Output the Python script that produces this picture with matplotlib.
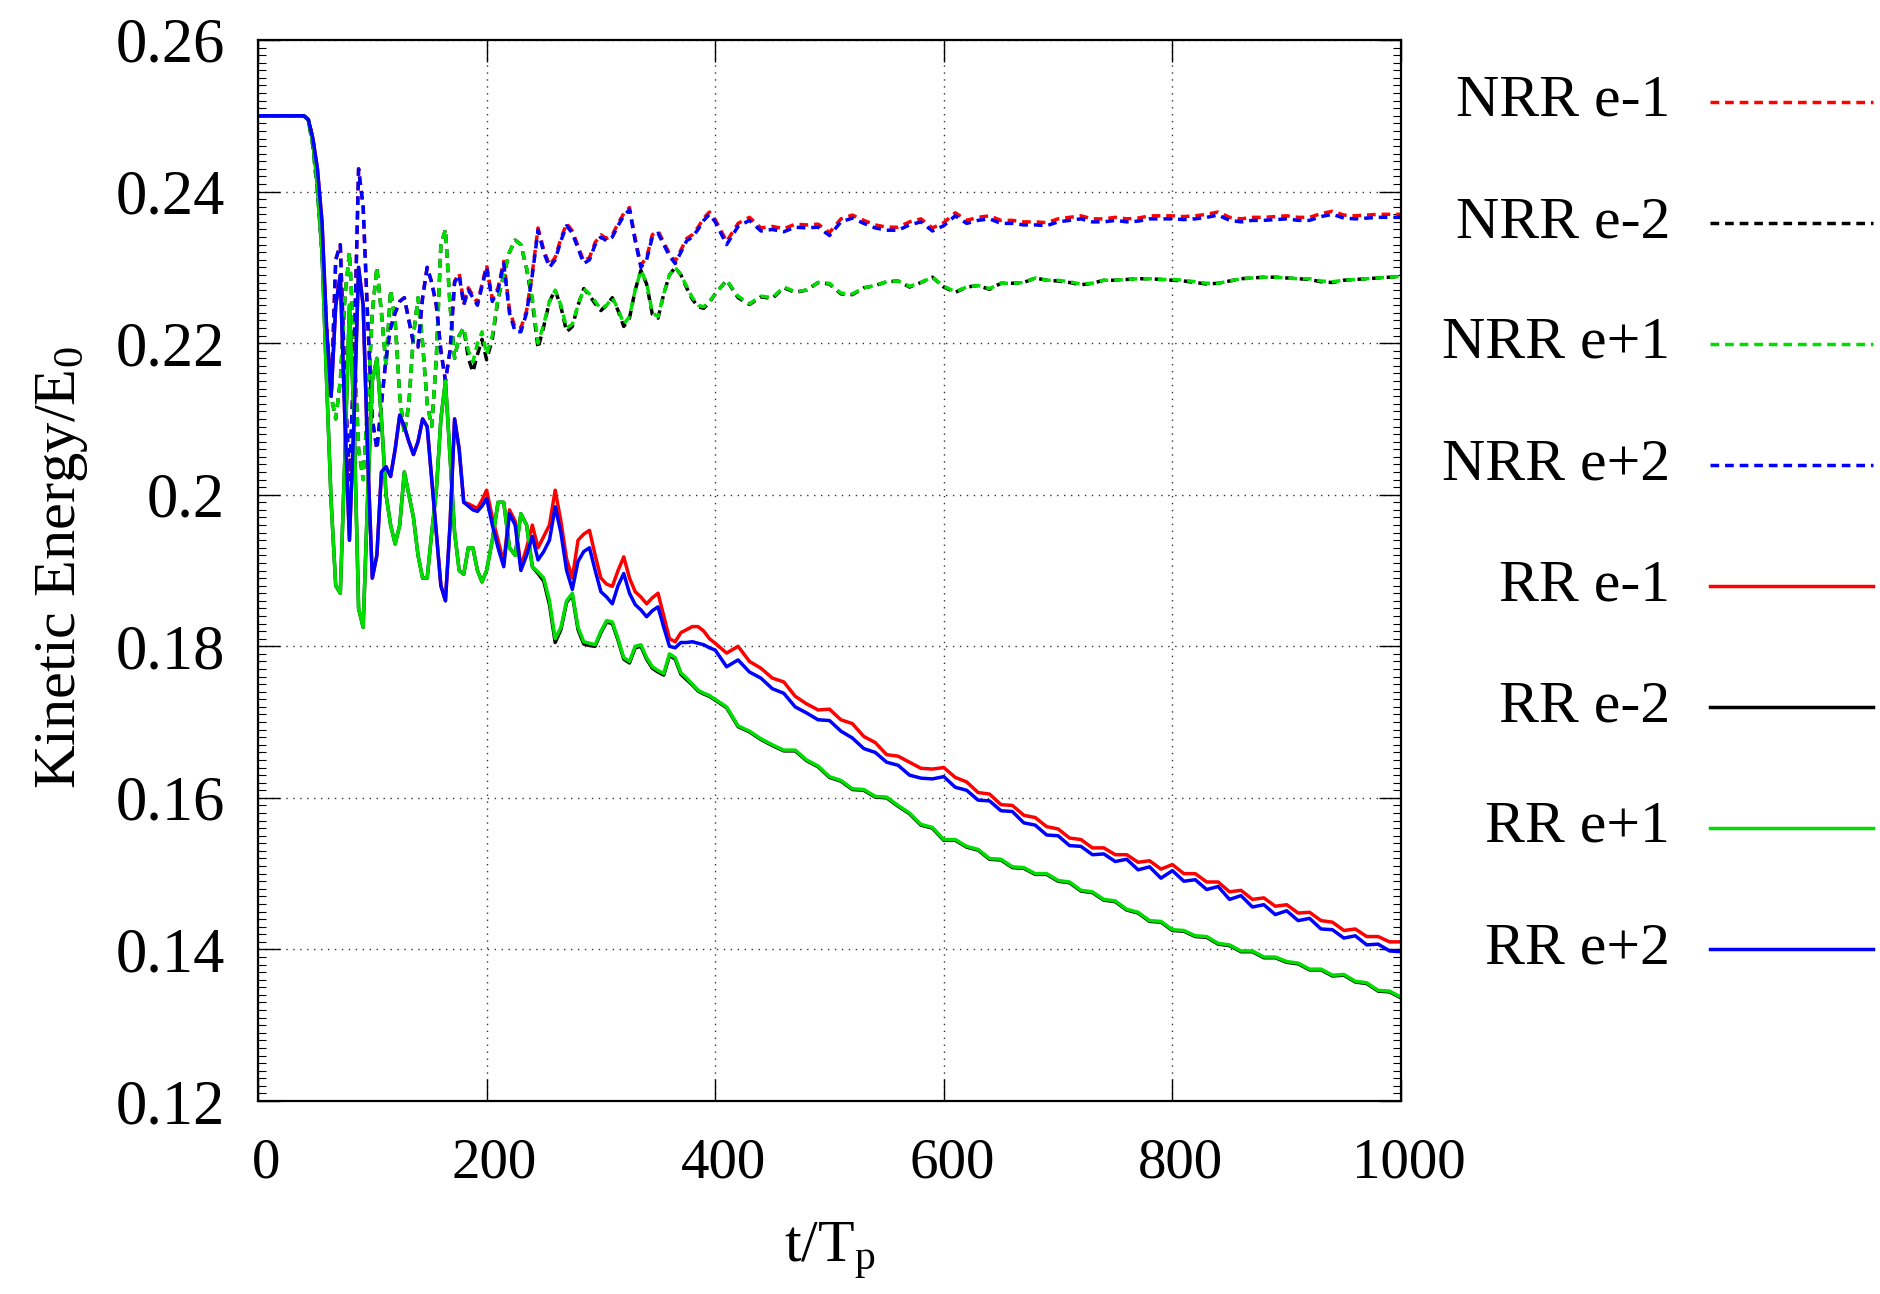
import numpy as np
import matplotlib
matplotlib.use("Agg")
import matplotlib.pyplot as plt
import matplotlib.transforms as mtransforms
from matplotlib.lines import Line2D
from matplotlib.ticker import MultipleLocator, FuncFormatter

plt.rcParams['font.family'] = ['Liberation Serif', 'DejaVu Serif']
plt.rcParams['mathtext.fontset'] = 'custom'
plt.rcParams['mathtext.rm'] = 'Liberation Serif'
plt.rcParams['mathtext.it'] = 'Liberation Serif:italic'

# ---------------- data ----------------
t_plateau = [0, 10, 20, 30, 40]
t_early = list(range(44, 201, 4))      # 40 samples
t_mid = list(range(205, 401, 5))       # 40 samples
t_late = list(range(410, 1001, 10))    # 60 samples
t = np.array(t_plateau + t_early + t_mid + t_late, dtype=float)

nrr_ep2 = [0.250, 0.250, 0.250, 0.250, 0.250,
    0.2495, 0.2470, 0.2410, 0.2330, 0.2220, 0.2130, 0.2310, 0.2330, 0.2150, 0.2020,
    0.2180, 0.2430, 0.2380, 0.2230, 0.2100, 0.2060, 0.2120, 0.2180, 0.2220, 0.2240,
    0.2255, 0.2260, 0.2230, 0.2200, 0.2195, 0.2260, 0.2300, 0.2280, 0.2250, 0.2190,
    0.2150, 0.2190, 0.2280, 0.2290, 0.2250, 0.2270, 0.2260, 0.2250, 0.2275, 0.2300,
    0.2255, 0.2270, 0.2305, 0.2240, 0.2215, 0.2215, 0.2240, 0.2290, 0.2349, 0.2320,
    0.2300, 0.2310, 0.2335, 0.2355, 0.2345, 0.2325, 0.2305, 0.2310, 0.2330, 0.2340,
    0.2335, 0.2340, 0.2355, 0.2368, 0.2376, 0.2335, 0.2300, 0.2310, 0.2340, 0.2345,
    0.2330, 0.2315, 0.2305, 0.2320, 0.2335, 0.2340, 0.2350, 0.2362, 0.2370, 0.2360,
    0.2330, 0.2354, 0.2362, 0.2348, 0.2350, 0.2347, 0.2353, 0.2352, 0.2353, 0.2342,
    0.2360, 0.2365, 0.2358, 0.2352, 0.2349, 0.2349, 0.2356, 0.2360, 0.2348, 0.2355,
    0.2368, 0.2358, 0.2362, 0.2364, 0.2358, 0.2358, 0.2356, 0.2356, 0.2355, 0.2360,
    0.2362, 0.2364, 0.2360, 0.2360, 0.2362, 0.2360, 0.2361, 0.2364, 0.2364, 0.2364,
    0.2363, 0.2364, 0.2366, 0.2369, 0.2362, 0.2360, 0.2362, 0.2362, 0.2363, 0.2364,
    0.2362, 0.2362, 0.2367, 0.2370, 0.2365, 0.2364, 0.2365, 0.2366, 0.2366, 0.2366]

nrr_em1 = [0.250, 0.250, 0.250, 0.250, 0.250,
    0.2495, 0.2470, 0.2410, 0.2330, 0.2220, 0.2130, 0.2310, 0.2330, 0.2150, 0.2020,
    0.2180, 0.2430, 0.2380, 0.2230, 0.2100, 0.2060, 0.2120, 0.2180, 0.2220, 0.2240,
    0.2255, 0.2260, 0.2230, 0.2200, 0.2195, 0.2260, 0.2300, 0.2280, 0.2250, 0.2190,
    0.2150, 0.2190, 0.2282, 0.2292, 0.2253, 0.2273, 0.2263, 0.2253, 0.2278, 0.2303,
    0.2258, 0.2273, 0.2308, 0.2244, 0.2220, 0.2220, 0.2243, 0.2293, 0.2352, 0.2323,
    0.2303, 0.2313, 0.2338, 0.2358, 0.2348, 0.2328, 0.2308, 0.2313, 0.2333, 0.2343,
    0.2338, 0.2343, 0.2358, 0.2371, 0.2379, 0.2338, 0.2303, 0.2313, 0.2343, 0.2348,
    0.2333, 0.2318, 0.2308, 0.2323, 0.2338, 0.2343, 0.2353, 0.2365, 0.2373, 0.2363,
    0.2334, 0.2358, 0.2366, 0.2352, 0.2354, 0.2351, 0.2357, 0.2356, 0.2357, 0.2346,
    0.2364, 0.2369, 0.2362, 0.2356, 0.2353, 0.2353, 0.2360, 0.2364, 0.2352, 0.2359,
    0.2372, 0.2362, 0.2366, 0.2368, 0.2362, 0.2362, 0.2360, 0.2360, 0.2359, 0.2364,
    0.2366, 0.2368, 0.2364, 0.2364, 0.2366, 0.2364, 0.2365, 0.2368, 0.2368, 0.2368,
    0.2367, 0.2368, 0.2370, 0.2373, 0.2366, 0.2364, 0.2366, 0.2366, 0.2367, 0.2368,
    0.2366, 0.2366, 0.2371, 0.2374, 0.2369, 0.2368, 0.2369, 0.2370, 0.2370, 0.2370]

nrr_ep1 = [0.250, 0.250, 0.250, 0.250, 0.250,
    0.2495, 0.2460, 0.2400, 0.2320, 0.2220, 0.2130, 0.2100, 0.2150, 0.2260, 0.2320,
    0.2200, 0.2060, 0.2020, 0.2120, 0.2240, 0.2300, 0.2240, 0.2170, 0.2270, 0.2230,
    0.2130, 0.2080, 0.2120, 0.2210, 0.2260, 0.2200, 0.2120, 0.2090, 0.2180, 0.2330,
    0.2350, 0.2250, 0.2180, 0.2210, 0.2220, 0.2190, 0.2175, 0.2200, 0.2215, 0.2185,
    0.2210, 0.2260, 0.2290, 0.2320, 0.2336, 0.2330, 0.2300, 0.2260, 0.2200, 0.2225,
    0.2255, 0.2270, 0.2250, 0.2220, 0.2225, 0.2250, 0.2272, 0.2265, 0.2255, 0.2245,
    0.2250, 0.2260, 0.2245, 0.2225, 0.2235, 0.2270, 0.2296, 0.2280, 0.2240, 0.2235,
    0.2265, 0.2290, 0.2300, 0.2290, 0.2275, 0.2260, 0.2250, 0.2248, 0.2255, 0.2265,
    0.2283, 0.2262, 0.2252, 0.2262, 0.2260, 0.2274, 0.2268, 0.2270, 0.2280, 0.2279,
    0.2266, 0.2265, 0.2273, 0.2276, 0.2281, 0.2282, 0.2275, 0.2280, 0.2287, 0.2275,
    0.2268, 0.2274, 0.2276, 0.2272, 0.2279, 0.2279, 0.2280, 0.2286, 0.2283, 0.2283,
    0.2281, 0.2278, 0.2279, 0.2283, 0.2283, 0.2284, 0.2285, 0.2285, 0.2284, 0.2284,
    0.2283, 0.2281, 0.2279, 0.2279, 0.2282, 0.2285, 0.2286, 0.2287, 0.2287, 0.2286,
    0.2285, 0.2285, 0.2282, 0.2281, 0.2283, 0.2284, 0.2285, 0.2286, 0.2287, 0.2288]

nrr_em2 = [0.250, 0.250, 0.250, 0.250, 0.250,
    0.2495, 0.2460, 0.2400, 0.2320, 0.2220, 0.2130, 0.2100, 0.2150, 0.2260, 0.2320,
    0.2200, 0.2060, 0.2020, 0.2120, 0.2240, 0.2300, 0.2240, 0.2170, 0.2270, 0.2230,
    0.2130, 0.2080, 0.2120, 0.2210, 0.2260, 0.2200, 0.2120, 0.2090, 0.2180, 0.2330,
    0.2350, 0.2250, 0.2180, 0.2210, 0.2220, 0.2180, 0.2162, 0.2185, 0.2205, 0.2178,
    0.2205, 0.2258, 0.2290, 0.2320, 0.2336, 0.2330, 0.2298, 0.2255, 0.2193, 0.2222,
    0.2255, 0.2270, 0.2248, 0.2215, 0.2222, 0.2250, 0.2272, 0.2263, 0.2252, 0.2243,
    0.2250, 0.2260, 0.2243, 0.2222, 0.2233, 0.2270, 0.2296, 0.2278, 0.2238, 0.2233,
    0.2265, 0.2290, 0.2300, 0.2290, 0.2273, 0.2258, 0.2248, 0.2246, 0.2254, 0.2265,
    0.2283, 0.2260, 0.2251, 0.2261, 0.2259, 0.2273, 0.2267, 0.2270, 0.2280, 0.2278,
    0.2265, 0.2264, 0.2273, 0.2276, 0.2281, 0.2282, 0.2274, 0.2280, 0.2287, 0.2274,
    0.2267, 0.2274, 0.2276, 0.2271, 0.2279, 0.2279, 0.2280, 0.2286, 0.2283, 0.2282,
    0.2280, 0.2277, 0.2279, 0.2283, 0.2283, 0.2284, 0.2285, 0.2285, 0.2284, 0.2283,
    0.2282, 0.2280, 0.2278, 0.2279, 0.2282, 0.2285, 0.2286, 0.2287, 0.2287, 0.2286,
    0.2285, 0.2284, 0.2281, 0.2280, 0.2283, 0.2284, 0.2285, 0.2286, 0.2287, 0.2288]

rr_ep2 = [0.250, 0.250, 0.250, 0.250, 0.250,
    0.2495, 0.2470, 0.2430, 0.2360, 0.2220, 0.2130, 0.2250, 0.2290, 0.2100, 0.1940,
    0.2100, 0.2300, 0.2250, 0.2050, 0.1890, 0.1920, 0.2030, 0.2037, 0.2024, 0.2060,
    0.2105, 0.2090, 0.2070, 0.2053, 0.2070, 0.2100, 0.2090, 0.2020, 0.1950, 0.1880,
    0.1860, 0.1960, 0.2100, 0.2060, 0.1990, 0.1985, 0.1980, 0.1978, 0.1985, 0.1995,
    0.1960, 0.1930, 0.1905, 0.1975, 0.1960, 0.1900, 0.1920, 0.1945, 0.1914, 0.1925,
    0.1940, 0.1984, 0.1950, 0.1900, 0.1875, 0.1912, 0.1925, 0.1930, 0.1900, 0.1872,
    0.1865, 0.1856, 0.1880, 0.1896, 0.1870, 0.1855, 0.1848, 0.1839, 0.1847, 0.1852,
    0.1825, 0.1800, 0.1798, 0.1805, 0.1805, 0.1806, 0.1804, 0.1802, 0.1798, 0.1795,
    0.1773, 0.1782, 0.1766, 0.1758, 0.1744, 0.1738, 0.1720, 0.1712, 0.1703, 0.1702,
    0.1688, 0.1679, 0.1665, 0.1660, 0.1647, 0.1643, 0.1630, 0.1626, 0.1625, 0.1628,
    0.1614, 0.1610, 0.1597, 0.1596, 0.1583, 0.1582, 0.1567, 0.1564, 0.1551, 0.1550,
    0.1537, 0.1536, 0.1525, 0.1526, 0.1516, 0.1519, 0.1505, 0.1509, 0.1494, 0.1504,
    0.1490, 0.1492, 0.1479, 0.1483, 0.1466, 0.1471, 0.1456, 0.1459, 0.1446, 0.1451,
    0.1438, 0.1441, 0.1427, 0.1426, 0.1415, 0.1418, 0.1406, 0.1407, 0.1398, 0.1397]

rr_em1 = [0.250, 0.250, 0.250, 0.250, 0.250,
    0.2495, 0.2470, 0.2430, 0.2360, 0.2220, 0.2130, 0.2250, 0.2290, 0.2100, 0.1940,
    0.2100, 0.2300, 0.2250, 0.2050, 0.1890, 0.1920, 0.2030, 0.2037, 0.2024, 0.2060,
    0.2105, 0.2090, 0.2070, 0.2053, 0.2070, 0.2100, 0.2090, 0.2020, 0.1950, 0.1880,
    0.1860, 0.1960, 0.2100, 0.2060, 0.1990, 0.1988, 0.1985, 0.1982, 0.1993, 0.2006,
    0.1970, 0.1940, 0.1910, 0.1980, 0.1965, 0.1905, 0.1930, 0.1960, 0.1930, 0.1945,
    0.1960, 0.2006, 0.1965, 0.1915, 0.1890, 0.1940, 0.1948, 0.1953, 0.1920, 0.1890,
    0.1882, 0.1879, 0.1900, 0.1918, 0.1890, 0.1872, 0.1865, 0.1856, 0.1864, 0.1870,
    0.1840, 0.1810, 0.1806, 0.1818, 0.1822, 0.1826, 0.1826, 0.1820, 0.1810, 0.1804,
    0.1791, 0.1800, 0.1780, 0.1771, 0.1758, 0.1753, 0.1734, 0.1724, 0.1716, 0.1717,
    0.1703, 0.1698, 0.1681, 0.1673, 0.1657, 0.1655, 0.1647, 0.1639, 0.1638, 0.1640,
    0.1627, 0.1621, 0.1607, 0.1605, 0.1591, 0.1590, 0.1577, 0.1574, 0.1562, 0.1559,
    0.1547, 0.1545, 0.1534, 0.1534, 0.1525, 0.1525, 0.1515, 0.1517, 0.1506, 0.1512,
    0.1500, 0.1500, 0.1489, 0.1489, 0.1476, 0.1478, 0.1466, 0.1468, 0.1457, 0.1459,
    0.1448, 0.1449, 0.1438, 0.1436, 0.1425, 0.1427, 0.1417, 0.1417, 0.1410, 0.1410]

rr_ep1 = [0.250, 0.250, 0.250, 0.250, 0.250,
    0.2495, 0.2465, 0.2410, 0.2320, 0.2150, 0.1990, 0.1880, 0.1870, 0.2050, 0.2250,
    0.2100, 0.1850, 0.1825, 0.2000, 0.2150, 0.2180, 0.2100, 0.2000, 0.1960, 0.1935,
    0.1960, 0.2030, 0.2000, 0.1970, 0.1920, 0.1890, 0.1890, 0.1950, 0.2005, 0.2100,
    0.2150, 0.2050, 0.1950, 0.1900, 0.1895, 0.1930, 0.1930, 0.1900, 0.1885, 0.1900,
    0.1940, 0.1990, 0.1990, 0.1930, 0.1920, 0.1975, 0.1960, 0.1905, 0.1898, 0.1890,
    0.1860, 0.1810, 0.1825, 0.1860, 0.1870, 0.1825, 0.1806, 0.1804, 0.1802, 0.1820,
    0.1834, 0.1832, 0.1810, 0.1785, 0.1780, 0.1800, 0.1802, 0.1785, 0.1773, 0.1768,
    0.1764, 0.1790, 0.1785, 0.1765, 0.1758, 0.1750, 0.1742, 0.1738, 0.1735, 0.1730,
    0.1720, 0.1695, 0.1688, 0.1678, 0.1670, 0.1663, 0.1663, 0.1650, 0.1642, 0.1628,
    0.1623, 0.1612, 0.1611, 0.1602, 0.1601, 0.1590, 0.1580, 0.1565, 0.1561, 0.1545,
    0.1545, 0.1536, 0.1532, 0.1520, 0.1519, 0.1509, 0.1508, 0.1500, 0.1500, 0.1491,
    0.1489, 0.1478, 0.1476, 0.1466, 0.1464, 0.1453, 0.1449, 0.1438, 0.1437, 0.1426,
    0.1425, 0.1418, 0.1417, 0.1408, 0.1406, 0.1398, 0.1398, 0.1390, 0.1390, 0.1384,
    0.1382, 0.1374, 0.1374, 0.1366, 0.1367, 0.1358, 0.1356, 0.1346, 0.1345, 0.1337]

rr_em2 = [0.250, 0.250, 0.250, 0.250, 0.250,
    0.2495, 0.2465, 0.2410, 0.2320, 0.2150, 0.1990, 0.1880, 0.1870, 0.2050, 0.2250,
    0.2100, 0.1850, 0.1825, 0.2000, 0.2150, 0.2180, 0.2100, 0.2000, 0.1960, 0.1935,
    0.1960, 0.2030, 0.2000, 0.1970, 0.1920, 0.1890, 0.1890, 0.1950, 0.2005, 0.2100,
    0.2150, 0.2050, 0.1950, 0.1900, 0.1895, 0.1930, 0.1930, 0.1900, 0.1885, 0.1900,
    0.1940, 0.1990, 0.1990, 0.1930, 0.1920, 0.1975, 0.1960, 0.1905, 0.1896, 0.1886,
    0.1855, 0.1805, 0.1822, 0.1858, 0.1868, 0.1822, 0.1803, 0.1801, 0.1800, 0.1818,
    0.1832, 0.1830, 0.1808, 0.1783, 0.1778, 0.1798, 0.1800, 0.1783, 0.1771, 0.1766,
    0.1762, 0.1788, 0.1783, 0.1763, 0.1756, 0.1749, 0.1741, 0.1737, 0.1734, 0.1729,
    0.1719, 0.1694, 0.1687, 0.1677, 0.1669, 0.1662, 0.1662, 0.1649, 0.1641, 0.1627,
    0.1622, 0.1611, 0.1610, 0.1601, 0.1600, 0.1589, 0.1579, 0.1564, 0.1560, 0.1544,
    0.1544, 0.1535, 0.1531, 0.1519, 0.1518, 0.1508, 0.1507, 0.1499, 0.1499, 0.1490,
    0.1488, 0.1477, 0.1475, 0.1465, 0.1463, 0.1452, 0.1448, 0.1437, 0.1436, 0.1425,
    0.1424, 0.1417, 0.1416, 0.1407, 0.1405, 0.1397, 0.1397, 0.1389, 0.1389, 0.1383,
    0.1381, 0.1373, 0.1373, 0.1365, 0.1366, 0.1357, 0.1355, 0.1345, 0.1344, 0.1336]

labels = ["NRR e-1", "NRR e-2", "NRR e+1", "NRR e+2",
          "RR e-1", "RR e-2", "RR e+1", "RR e+2"]
series = [nrr_em1, nrr_em2, nrr_ep1, nrr_ep2, rr_em1, rr_em2, rr_ep1, rr_ep2]
y_ticks = [0.12, 0.14, 0.16, 0.18, 0.2, 0.22, 0.24, 0.26]
x_ticks = [0, 200, 400, 600, 800, 1000]

for s in series:
    assert len(s) == len(t), (len(s), len(t))

# ---------------- style ----------------
RED, BLACK, GREEN, BLUE = '#ff0000', '#000000', '#00dd00', '#0000ff'
colors = [RED, BLACK, GREEN, BLUE, RED, BLACK, GREEN, BLUE]
DASH = (0, (2.5, 1.7))
styles = [DASH] * 4 + ['-'] * 4
LW = 2.5

W, H = 1881, 1294
fig = plt.figure(figsize=(W / 100, H / 100), dpi=100)
ax = fig.add_axes([258 / W, 1 - 1101 / H, (1401 - 258) / W, (1101 - 40) / H])

for s, c, ls in zip(series, colors, styles):
    ax.plot(t, s, color=c, linestyle=ls, lw=LW)

ax.set_xlim(0, 1000)
ax.set_ylim(0.12, 0.26)
ax.set_xticks(x_ticks)
ax.set_yticks(y_ticks)
ax.yaxis.set_minor_locator(MultipleLocator(0.001))
ax.yaxis.set_major_formatter(FuncFormatter(lambda v, p: f"{v:g}"))
ax.tick_params(axis='both', which='major', direction='in', length=16, width=1.0,
               top=True, right=True)
ax.tick_params(axis='y', which='minor', direction='in', length=6, width=0.8,
               left=True, right=True)
ax.tick_params(axis='x', which='major', pad=26, labelsize=41)
ax.tick_params(axis='y', which='major', pad=24, labelsize=45)
for sp in ax.spines.values():
    sp.set_linewidth(1.6)
ax.grid(True, which='major', color='black', linestyle=(0, (1, 4)), lw=1.0, alpha=0.8)

shift = mtransforms.ScaledTranslation(8 / 100, 0, fig.dpi_scale_trans)
for lab in ax.get_xticklabels():
    lab.set_transform(lab.get_transform() + shift)

fig.text(62 / W, 1 - 568 / H, "Kinetic Energy/E$_{\\mathrm{0}}$", rotation=90,
         ha='center', va='center', fontsize=43.5)
fig.text(830 / W, 1 - 1262 / H, "t/T$_{\\mathrm{p}}$", ha='center', va='baseline',
         fontsize=43)

# legend (gnuplot-style, right aligned labels)
for i, (lab, c, ls) in enumerate(zip(labels, colors, styles)):
    yy = 1 - (102 + i * 121) / H
    fig.text(1670 / W, yy, lab, ha='right', va='center', fontsize=43)
    fig.add_artist(Line2D([1710 / W, 1873 / W], [yy, yy], transform=fig.transFigure,
                          color=c, linestyle=ls, lw=LW))

fig.savefig("out.png", dpi=100)
